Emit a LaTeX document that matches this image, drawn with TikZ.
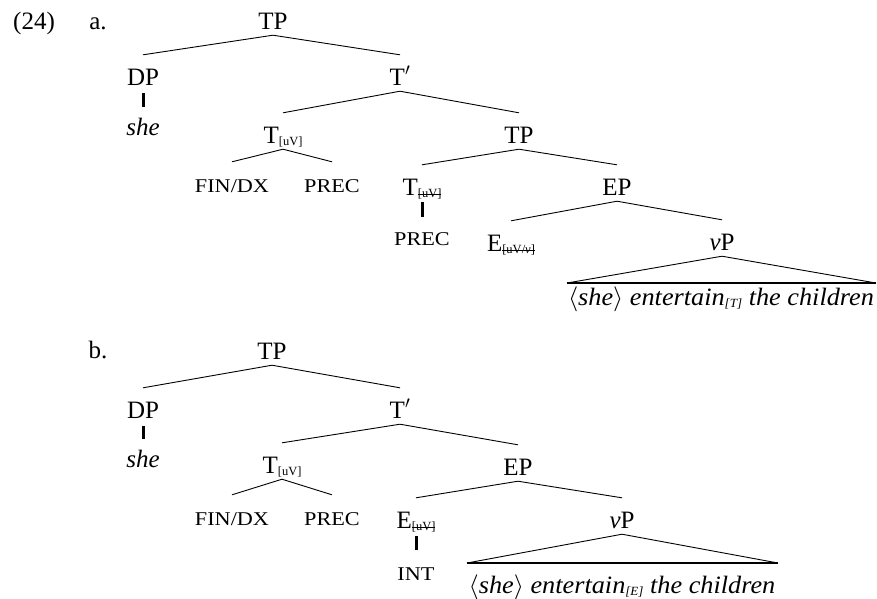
\documentclass[tikz,border=0pt]{standalone}
\usepackage{fontspec}
\setmainfont{Liberation Serif}
\newsavebox\stkbox
\newcommand\stk[1]{\sbox\stkbox{#1}\rlap{\rule[0.3\ht\stkbox]{\wd\stkbox}{1.3pt}}\usebox\stkbox}
\newcommand\sbs[1]{\raisebox{-2.5pt}{\fontsize{12.5}{13}\selectfont #1}}
\newcommand\smc[1]{\scalebox{1.14}[1]{\fontsize{19.5}{20}\selectfont #1}}
\newcommand\btext[1]{\scalebox{1.05}[1]{\fontsize{25}{28}\selectfont #1}}
\begin{document}
\begin{tikzpicture}[x=1pt,y=-1pt,
  lab/.style={anchor=base, inner sep=0pt, text height=30pt, text depth=6pt, font=\fontsize{25}{28}\selectfont},
  plain/.style={anchor=base, inner sep=0pt, font=\fontsize{25}{28}\selectfont},
  br/.style={line width=0.9pt},
  tk/.style={line width=3pt},
  trib/.style={line width=2.2pt}]
\useasboundingbox (0,0) rectangle (877,598);
% ---------- (24) a.
\node[plain] (ex) at (34,29) {(24)};
\node[plain] (la) at (98,29) {a.};
\node[lab] (aTP) at (273,29) {TP};
\node[lab] (aDP) at (143,85) {DP};
\node[lab] (aTb) at (400,85) {T$'$};
\node[plain] (ashe) at (143,135) {\textit{she}};
\node[lab] (aT1) at (283,143) {T\sbs{[uV]}};
\node[lab] (aTP2) at (519,143) {TP};
\node[lab] (aFIN) at (232,192) {\smc{FIN/DX}};
\node[lab] (aPREC) at (332,192) {\smc{PREC}};
\node[lab] (aT2) at (422,195) {T\sbs{\stk{[uV]}}};
\node[lab] (aEP) at (617,195) {EP};
\node[lab] (aPREC2) at (422,245) {\smc{PREC}};
\node[lab] (aE) at (511,251) {E\sbs{\stk{[uV/\textit{v}]}}};
\node[lab] (avP) at (722,250) {\textit{v}P};
\coordinate (aBL) at (567,283);
\coordinate (aBR) at (876,283);
\node[plain] (atxt) at (721,305) {\btext{$\langle$\textit{she}$\rangle$ \textit{entertain}\sbs{\textit{[T]}} \textit{the children}}};
\draw[br] (aTP.south) -- (aDP.north);
\draw[br] (aTP.south) -- (aTb.north);
\draw[tk] ([yshift=-8pt]aDP.base) -- ([yshift=28pt]ashe.base);
\draw[br] (aTb.south) -- (aT1.north);
\draw[br] (aTb.south) -- (aTP2.north);
\draw[br] (aT1.south) -- (aFIN.north);
\draw[br] (aT1.south) -- (aPREC.north);
\draw[br] (aTP2.south) -- (aT2.north);
\draw[br] (aTP2.south) -- (aEP.north);
\draw[tk] ([yshift=-7pt]aT2.base) -- ([yshift=28pt]aPREC2.base);
\draw[br] (aEP.south) -- (aE.north);
\draw[br] (aEP.south) -- (avP.north);
\draw[br] (avP.south) -- (aBL);
\draw[br] (avP.south) -- (aBR);
\draw[trib] (aBL) -- (aBR);
% ---------- b.
\node[plain] (lb) at (98,358) {b.};
\node[lab] (bTP) at (272,359) {TP};
\node[lab] (bDP) at (143,418) {DP};
\node[lab] (bTb) at (400,418) {T$'$};
\node[plain] (bshe) at (143,467) {\textit{she}};
\node[lab] (bT1) at (282,473) {T\sbs{[uV]}};
\node[lab] (bEP) at (518,475) {EP};
\node[lab] (bFIN) at (232,525) {\smc{FIN/DX}};
\node[lab] (bPREC) at (332,525) {\smc{PREC}};
\node[lab] (bE) at (416,528) {E\sbs{\stk{[uV]}}};
\node[lab] (bvP) at (622,528) {\textit{v}P};
\node[lab] (bINT) at (416,580) {\smc{INT}};
\coordinate (bBL) at (467,563);
\coordinate (bBR) at (778,563);
\node[plain] (btxt) at (622,593) {\btext{$\langle$\textit{she}$\rangle$ \textit{entertain}\sbs{\textit{[E]}} \textit{the children}}};
\draw[br] (bTP.south) -- (bDP.north);
\draw[br] (bTP.south) -- (bTb.north);
\draw[tk] ([yshift=-8pt]bDP.base) -- ([yshift=28pt]bshe.base);
\draw[br] (bTb.south) -- (bT1.north);
\draw[br] (bTb.south) -- (bEP.north);
\draw[br] (bT1.south) -- (bFIN.north);
\draw[br] (bT1.south) -- (bPREC.north);
\draw[br] (bEP.south) -- (bE.north);
\draw[br] (bEP.south) -- (bvP.north);
\draw[tk] ([yshift=-8pt]bE.base) -- ([yshift=30pt]bINT.base);
\draw[br] (bvP.south) -- (bBL);
\draw[br] (bvP.south) -- (bBR);
\draw[trib] (bBL) -- (bBR);
\end{tikzpicture}
\end{document}
